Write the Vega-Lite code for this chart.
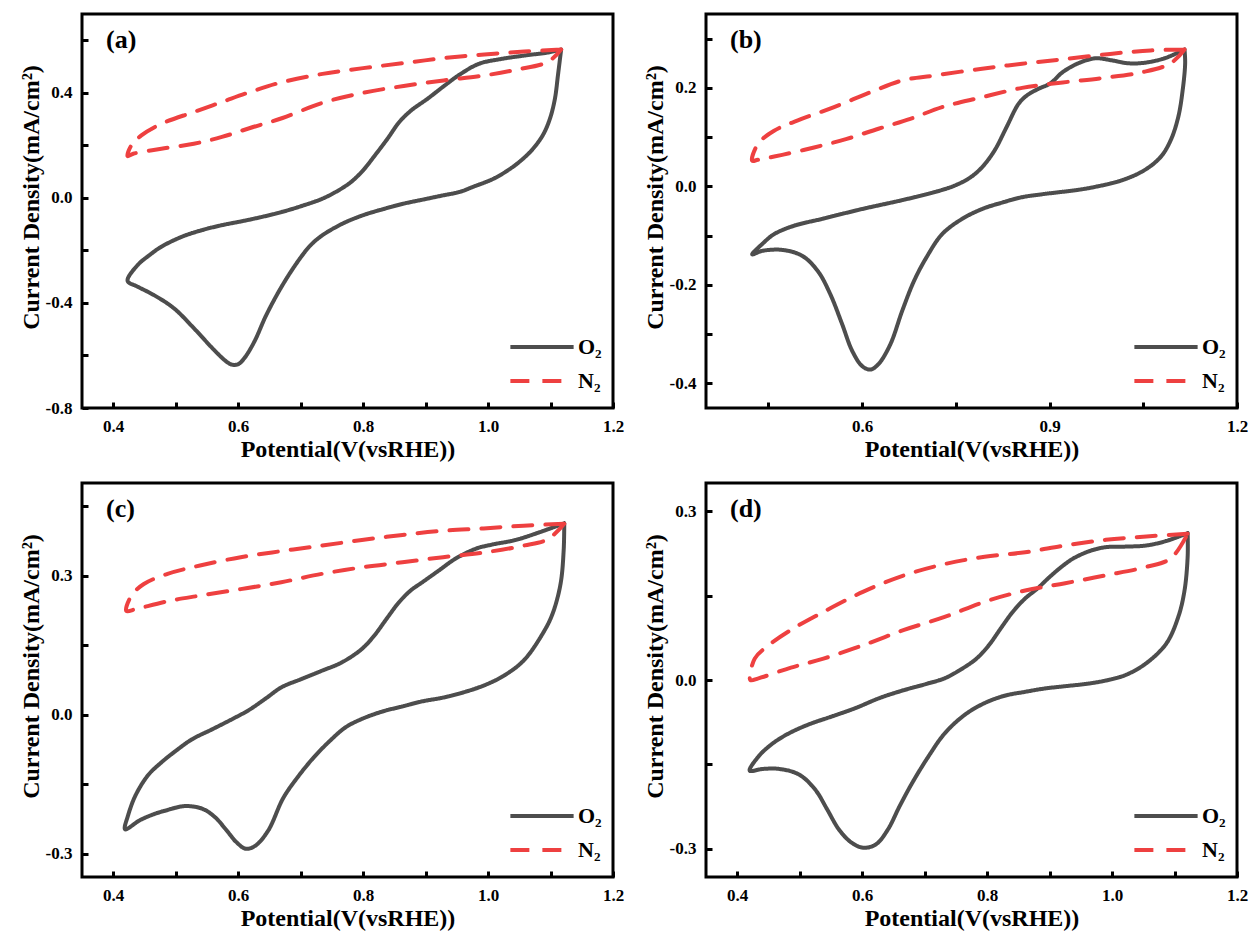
{
"$schema":"https://vega.github.io/schema/vega-lite/v6.json",
"background":"white",
"padding":{"left":17,"top":12,"right":5,"bottom":5},
"bounds":"flush",
"columns":2,
"spacing":{"row":75,"column":93},
"resolve":{"scale":{"x":"independent","y":"independent","color":"independent","strokeDash":"independent"},"legend":{"color":"independent","strokeDash":"independent"},"axis":{"x":"independent","y":"independent"}},
"data":{"values":[
{"p":"a","g":"O₂","i":1,"x":1.117,"y":0.565},{"p":"a","g":"O₂","i":2,"x":1.112,"y":0.469},{"p":"a","g":"O₂","i":3,"x":1.107,"y":0.377},{"p":"a","g":"O₂","i":4,"x":1.099,"y":0.301},{"p":"a","g":"O₂","i":5,"x":1.088,"y":0.240},{"p":"a","g":"O₂","i":6,"x":1.072,"y":0.187},{"p":"a","g":"O₂","i":7,"x":1.056,"y":0.149},{"p":"a","g":"O₂","i":8,"x":1.035,"y":0.110},{"p":"a","g":"O₂","i":9,"x":1.008,"y":0.072},{"p":"a","g":"O₂","i":10,"x":0.976,"y":0.042},{"p":"a","g":"O₂","i":11,"x":0.955,"y":0.023},{"p":"a","g":"O₂","i":12,"x":0.925,"y":0.008},{"p":"a","g":"O₂","i":13,"x":0.897,"y":-0.006},{"p":"a","g":"O₂","i":14,"x":0.865,"y":-0.022},{"p":"a","g":"O₂","i":15,"x":0.832,"y":-0.043},{"p":"a","g":"O₂","i":16,"x":0.800,"y":-0.066},{"p":"a","g":"O₂","i":17,"x":0.768,"y":-0.097},{"p":"a","g":"O₂","i":18,"x":0.735,"y":-0.142},{"p":"a","g":"O₂","i":19,"x":0.716,"y":-0.180},{"p":"a","g":"O₂","i":20,"x":0.697,"y":-0.237},{"p":"a","g":"O₂","i":21,"x":0.671,"y":-0.332},{"p":"a","g":"O₂","i":22,"x":0.645,"y":-0.446},{"p":"a","g":"O₂","i":23,"x":0.626,"y":-0.547},{"p":"a","g":"O₂","i":24,"x":0.610,"y":-0.610},{"p":"a","g":"O₂","i":25,"x":0.600,"y":-0.633},{"p":"a","g":"O₂","i":26,"x":0.590,"y":-0.635},{"p":"a","g":"O₂","i":27,"x":0.581,"y":-0.623},{"p":"a","g":"O₂","i":28,"x":0.561,"y":-0.578},{"p":"a","g":"O₂","i":29,"x":0.529,"y":-0.496},{"p":"a","g":"O₂","i":30,"x":0.497,"y":-0.420},{"p":"a","g":"O₂","i":31,"x":0.465,"y":-0.370},{"p":"a","g":"O₂","i":32,"x":0.439,"y":-0.338},{"p":"a","g":"O₂","i":33,"x":0.423,"y":-0.316},{"p":"a","g":"O₂","i":34,"x":0.439,"y":-0.256},{"p":"a","g":"O₂","i":35,"x":0.458,"y":-0.218},{"p":"a","g":"O₂","i":36,"x":0.477,"y":-0.186},{"p":"a","g":"O₂","i":37,"x":0.510,"y":-0.148},{"p":"a","g":"O₂","i":38,"x":0.542,"y":-0.123},{"p":"a","g":"O₂","i":39,"x":0.574,"y":-0.104},{"p":"a","g":"O₂","i":40,"x":0.606,"y":-0.089},{"p":"a","g":"O₂","i":41,"x":0.639,"y":-0.072},{"p":"a","g":"O₂","i":42,"x":0.671,"y":-0.053},{"p":"a","g":"O₂","i":43,"x":0.703,"y":-0.030},{"p":"a","g":"O₂","i":44,"x":0.735,"y":-0.003},{"p":"a","g":"O₂","i":45,"x":0.761,"y":0.029},{"p":"a","g":"O₂","i":46,"x":0.781,"y":0.061},{"p":"a","g":"O₂","i":47,"x":0.800,"y":0.105},{"p":"a","g":"O₂","i":48,"x":0.819,"y":0.162},{"p":"a","g":"O₂","i":49,"x":0.839,"y":0.225},{"p":"a","g":"O₂","i":50,"x":0.858,"y":0.289},{"p":"a","g":"O₂","i":51,"x":0.877,"y":0.333},{"p":"a","g":"O₂","i":52,"x":0.903,"y":0.377},{"p":"a","g":"O₂","i":53,"x":0.929,"y":0.425},{"p":"a","g":"O₂","i":54,"x":0.955,"y":0.470},{"p":"a","g":"O₂","i":55,"x":0.985,"y":0.510},{"p":"a","g":"O₂","i":56,"x":1.019,"y":0.528},{"p":"a","g":"O₂","i":57,"x":1.062,"y":0.543},{"p":"a","g":"O₂","i":58,"x":1.095,"y":0.553},{"p":"a","g":"O₂","i":59,"x":1.117,"y":0.565},
{"p":"a","g":"N₂","i":1,"x":1.117,"y":0.565},{"p":"a","g":"N₂","i":2,"x":1.058,"y":0.557},{"p":"a","g":"N₂","i":3,"x":0.994,"y":0.546},{"p":"a","g":"N₂","i":4,"x":0.929,"y":0.532},{"p":"a","g":"N₂","i":5,"x":0.865,"y":0.513},{"p":"a","g":"N₂","i":6,"x":0.800,"y":0.494},{"p":"a","g":"N₂","i":7,"x":0.735,"y":0.472},{"p":"a","g":"N₂","i":8,"x":0.671,"y":0.441},{"p":"a","g":"N₂","i":9,"x":0.619,"y":0.403},{"p":"a","g":"N₂","i":10,"x":0.574,"y":0.365},{"p":"a","g":"N₂","i":11,"x":0.529,"y":0.327},{"p":"a","g":"N₂","i":12,"x":0.477,"y":0.282},{"p":"a","g":"N₂","i":13,"x":0.445,"y":0.238},{"p":"a","g":"N₂","i":14,"x":0.429,"y":0.200},{"p":"a","g":"N₂","i":15,"x":0.423,"y":0.159},{"p":"a","g":"N₂","i":16,"x":0.432,"y":0.168},{"p":"a","g":"N₂","i":17,"x":0.477,"y":0.187},{"p":"a","g":"N₂","i":18,"x":0.529,"y":0.206},{"p":"a","g":"N₂","i":19,"x":0.574,"y":0.232},{"p":"a","g":"N₂","i":20,"x":0.619,"y":0.266},{"p":"a","g":"N₂","i":21,"x":0.671,"y":0.304},{"p":"a","g":"N₂","i":22,"x":0.735,"y":0.362},{"p":"a","g":"N₂","i":23,"x":0.800,"y":0.400},{"p":"a","g":"N₂","i":24,"x":0.865,"y":0.426},{"p":"a","g":"N₂","i":25,"x":0.929,"y":0.447},{"p":"a","g":"N₂","i":26,"x":0.994,"y":0.466},{"p":"a","g":"N₂","i":27,"x":1.045,"y":0.488},{"p":"a","g":"N₂","i":28,"x":1.096,"y":0.518},{"p":"a","g":"N₂","i":29,"x":1.117,"y":0.565},
{"p":"b","g":"O₂","i":1,"x":1.116,"y":0.278},{"p":"b","g":"O₂","i":2,"x":1.117,"y":0.250},{"p":"b","g":"O₂","i":3,"x":1.113,"y":0.195},{"p":"b","g":"O₂","i":4,"x":1.106,"y":0.141},{"p":"b","g":"O₂","i":5,"x":1.094,"y":0.094},{"p":"b","g":"O₂","i":6,"x":1.078,"y":0.060},{"p":"b","g":"O₂","i":7,"x":1.052,"y":0.033},{"p":"b","g":"O₂","i":8,"x":1.015,"y":0.012},{"p":"b","g":"O₂","i":9,"x":0.973,"y":-0.001},{"p":"b","g":"O₂","i":10,"x":0.946,"y":-0.007},{"p":"b","g":"O₂","i":11,"x":0.921,"y":-0.011},{"p":"b","g":"O₂","i":12,"x":0.888,"y":-0.016},{"p":"b","g":"O₂","i":13,"x":0.856,"y":-0.022},{"p":"b","g":"O₂","i":14,"x":0.824,"y":-0.033},{"p":"b","g":"O₂","i":15,"x":0.792,"y":-0.046},{"p":"b","g":"O₂","i":16,"x":0.760,"y":-0.066},{"p":"b","g":"O₂","i":17,"x":0.728,"y":-0.097},{"p":"b","g":"O₂","i":18,"x":0.703,"y":-0.144},{"p":"b","g":"O₂","i":19,"x":0.683,"y":-0.192},{"p":"b","g":"O₂","i":20,"x":0.664,"y":-0.253},{"p":"b","g":"O₂","i":21,"x":0.645,"y":-0.321},{"p":"b","g":"O₂","i":22,"x":0.626,"y":-0.361},{"p":"b","g":"O₂","i":23,"x":0.613,"y":-0.372},{"p":"b","g":"O₂","i":24,"x":0.600,"y":-0.365},{"p":"b","g":"O₂","i":25,"x":0.584,"y":-0.334},{"p":"b","g":"O₂","i":26,"x":0.568,"y":-0.280},{"p":"b","g":"O₂","i":27,"x":0.549,"y":-0.219},{"p":"b","g":"O₂","i":28,"x":0.529,"y":-0.172},{"p":"b","g":"O₂","i":29,"x":0.504,"y":-0.141},{"p":"b","g":"O₂","i":30,"x":0.472,"y":-0.129},{"p":"b","g":"O₂","i":31,"x":0.440,"y":-0.131},{"p":"b","g":"O₂","i":32,"x":0.424,"y":-0.138},{"p":"b","g":"O₂","i":33,"x":0.440,"y":-0.117},{"p":"b","g":"O₂","i":34,"x":0.459,"y":-0.097},{"p":"b","g":"O₂","i":35,"x":0.491,"y":-0.080},{"p":"b","g":"O₂","i":36,"x":0.536,"y":-0.066},{"p":"b","g":"O₂","i":37,"x":0.600,"y":-0.046},{"p":"b","g":"O₂","i":38,"x":0.664,"y":-0.028},{"p":"b","g":"O₂","i":39,"x":0.715,"y":-0.012},{"p":"b","g":"O₂","i":40,"x":0.747,"y":0.001},{"p":"b","g":"O₂","i":41,"x":0.773,"y":0.018},{"p":"b","g":"O₂","i":42,"x":0.792,"y":0.039},{"p":"b","g":"O₂","i":43,"x":0.812,"y":0.073},{"p":"b","g":"O₂","i":44,"x":0.831,"y":0.120},{"p":"b","g":"O₂","i":45,"x":0.850,"y":0.167},{"p":"b","g":"O₂","i":46,"x":0.863,"y":0.184},{"p":"b","g":"O₂","i":47,"x":0.882,"y":0.198},{"p":"b","g":"O₂","i":48,"x":0.901,"y":0.209},{"p":"b","g":"O₂","i":49,"x":0.921,"y":0.232},{"p":"b","g":"O₂","i":50,"x":0.946,"y":0.250},{"p":"b","g":"O₂","i":51,"x":0.973,"y":0.260},{"p":"b","g":"O₂","i":52,"x":0.999,"y":0.256},{"p":"b","g":"O₂","i":53,"x":1.025,"y":0.250},{"p":"b","g":"O₂","i":54,"x":1.052,"y":0.251},{"p":"b","g":"O₂","i":55,"x":1.084,"y":0.260},{"p":"b","g":"O₂","i":56,"x":1.116,"y":0.278},
{"p":"b","g":"N₂","i":1,"x":1.116,"y":0.278},{"p":"b","g":"N₂","i":2,"x":1.062,"y":0.276},{"p":"b","g":"N₂","i":3,"x":0.997,"y":0.269},{"p":"b","g":"N₂","i":4,"x":0.921,"y":0.258},{"p":"b","g":"N₂","i":5,"x":0.856,"y":0.249},{"p":"b","g":"N₂","i":6,"x":0.792,"y":0.239},{"p":"b","g":"N₂","i":7,"x":0.715,"y":0.225},{"p":"b","g":"N₂","i":8,"x":0.664,"y":0.215},{"p":"b","g":"N₂","i":9,"x":0.613,"y":0.191},{"p":"b","g":"N₂","i":10,"x":0.555,"y":0.161},{"p":"b","g":"N₂","i":11,"x":0.497,"y":0.134},{"p":"b","g":"N₂","i":12,"x":0.459,"y":0.113},{"p":"b","g":"N₂","i":13,"x":0.433,"y":0.086},{"p":"b","g":"N₂","i":14,"x":0.424,"y":0.052},{"p":"b","g":"N₂","i":15,"x":0.433,"y":0.054},{"p":"b","g":"N₂","i":16,"x":0.472,"y":0.064},{"p":"b","g":"N₂","i":17,"x":0.523,"y":0.079},{"p":"b","g":"N₂","i":18,"x":0.574,"y":0.096},{"p":"b","g":"N₂","i":19,"x":0.626,"y":0.117},{"p":"b","g":"N₂","i":20,"x":0.677,"y":0.137},{"p":"b","g":"N₂","i":21,"x":0.728,"y":0.161},{"p":"b","g":"N₂","i":22,"x":0.792,"y":0.181},{"p":"b","g":"N₂","i":23,"x":0.856,"y":0.200},{"p":"b","g":"N₂","i":24,"x":0.921,"y":0.211},{"p":"b","g":"N₂","i":25,"x":0.985,"y":0.220},{"p":"b","g":"N₂","i":26,"x":1.049,"y":0.232},{"p":"b","g":"N₂","i":27,"x":1.094,"y":0.250},{"p":"b","g":"N₂","i":28,"x":1.116,"y":0.278},
{"p":"c","g":"O₂","i":1,"x":1.122,"y":0.413},{"p":"c","g":"O₂","i":2,"x":1.121,"y":0.354},{"p":"c","g":"O₂","i":3,"x":1.116,"y":0.282},{"p":"c","g":"O₂","i":4,"x":1.103,"y":0.217},{"p":"c","g":"O₂","i":5,"x":1.087,"y":0.174},{"p":"c","g":"O₂","i":6,"x":1.057,"y":0.117},{"p":"c","g":"O₂","i":7,"x":1.025,"y":0.084},{"p":"c","g":"O₂","i":8,"x":0.993,"y":0.063},{"p":"c","g":"O₂","i":9,"x":0.960,"y":0.048},{"p":"c","g":"O₂","i":10,"x":0.928,"y":0.037},{"p":"c","g":"O₂","i":11,"x":0.895,"y":0.029},{"p":"c","g":"O₂","i":12,"x":0.863,"y":0.018},{"p":"c","g":"O₂","i":13,"x":0.831,"y":0.007},{"p":"c","g":"O₂","i":14,"x":0.798,"y":-0.009},{"p":"c","g":"O₂","i":15,"x":0.772,"y":-0.027},{"p":"c","g":"O₂","i":16,"x":0.747,"y":-0.056},{"p":"c","g":"O₂","i":17,"x":0.721,"y":-0.092},{"p":"c","g":"O₂","i":18,"x":0.695,"y":-0.135},{"p":"c","g":"O₂","i":19,"x":0.672,"y":-0.180},{"p":"c","g":"O₂","i":20,"x":0.648,"y":-0.250},{"p":"c","g":"O₂","i":21,"x":0.627,"y":-0.283},{"p":"c","g":"O₂","i":22,"x":0.612,"y":-0.289},{"p":"c","g":"O₂","i":23,"x":0.598,"y":-0.276},{"p":"c","g":"O₂","i":24,"x":0.580,"y":-0.247},{"p":"c","g":"O₂","i":25,"x":0.563,"y":-0.221},{"p":"c","g":"O₂","i":26,"x":0.543,"y":-0.203},{"p":"c","g":"O₂","i":27,"x":0.515,"y":-0.197},{"p":"c","g":"O₂","i":28,"x":0.483,"y":-0.207},{"p":"c","g":"O₂","i":29,"x":0.462,"y":-0.216},{"p":"c","g":"O₂","i":30,"x":0.442,"y":-0.228},{"p":"c","g":"O₂","i":31,"x":0.419,"y":-0.247},{"p":"c","g":"O₂","i":32,"x":0.424,"y":-0.216},{"p":"c","g":"O₂","i":33,"x":0.436,"y":-0.173},{"p":"c","g":"O₂","i":34,"x":0.456,"y":-0.130},{"p":"c","g":"O₂","i":35,"x":0.476,"y":-0.104},{"p":"c","g":"O₂","i":36,"x":0.500,"y":-0.078},{"p":"c","g":"O₂","i":37,"x":0.526,"y":-0.053},{"p":"c","g":"O₂","i":38,"x":0.559,"y":-0.031},{"p":"c","g":"O₂","i":39,"x":0.591,"y":-0.009},{"p":"c","g":"O₂","i":40,"x":0.617,"y":0.010},{"p":"c","g":"O₂","i":41,"x":0.643,"y":0.034},{"p":"c","g":"O₂","i":42,"x":0.669,"y":0.059},{"p":"c","g":"O₂","i":43,"x":0.701,"y":0.077},{"p":"c","g":"O₂","i":44,"x":0.734,"y":0.095},{"p":"c","g":"O₂","i":45,"x":0.766,"y":0.113},{"p":"c","g":"O₂","i":46,"x":0.798,"y":0.142},{"p":"c","g":"O₂","i":47,"x":0.818,"y":0.171},{"p":"c","g":"O₂","i":48,"x":0.837,"y":0.206},{"p":"c","g":"O₂","i":49,"x":0.857,"y":0.242},{"p":"c","g":"O₂","i":50,"x":0.876,"y":0.268},{"p":"c","g":"O₂","i":51,"x":0.895,"y":0.286},{"p":"c","g":"O₂","i":52,"x":0.921,"y":0.311},{"p":"c","g":"O₂","i":53,"x":0.947,"y":0.336},{"p":"c","g":"O₂","i":54,"x":0.980,"y":0.358},{"p":"c","g":"O₂","i":55,"x":1.006,"y":0.367},{"p":"c","g":"O₂","i":56,"x":1.044,"y":0.377},{"p":"c","g":"O₂","i":57,"x":1.083,"y":0.394},{"p":"c","g":"O₂","i":58,"x":1.122,"y":0.413},
{"p":"c","g":"N₂","i":1,"x":1.122,"y":0.412},{"p":"c","g":"N₂","i":2,"x":1.057,"y":0.408},{"p":"c","g":"N₂","i":3,"x":0.993,"y":0.402},{"p":"c","g":"N₂","i":4,"x":0.928,"y":0.397},{"p":"c","g":"N₂","i":5,"x":0.863,"y":0.388},{"p":"c","g":"N₂","i":6,"x":0.798,"y":0.377},{"p":"c","g":"N₂","i":7,"x":0.734,"y":0.365},{"p":"c","g":"N₂","i":8,"x":0.669,"y":0.353},{"p":"c","g":"N₂","i":9,"x":0.604,"y":0.340},{"p":"c","g":"N₂","i":10,"x":0.539,"y":0.322},{"p":"c","g":"N₂","i":11,"x":0.487,"y":0.304},{"p":"c","g":"N₂","i":12,"x":0.449,"y":0.282},{"p":"c","g":"N₂","i":13,"x":0.429,"y":0.257},{"p":"c","g":"N₂","i":14,"x":0.421,"y":0.224},{"p":"c","g":"N₂","i":15,"x":0.436,"y":0.228},{"p":"c","g":"N₂","i":16,"x":0.487,"y":0.245},{"p":"c","g":"N₂","i":17,"x":0.539,"y":0.257},{"p":"c","g":"N₂","i":18,"x":0.604,"y":0.271},{"p":"c","g":"N₂","i":19,"x":0.669,"y":0.286},{"p":"c","g":"N₂","i":20,"x":0.734,"y":0.304},{"p":"c","g":"N₂","i":21,"x":0.798,"y":0.318},{"p":"c","g":"N₂","i":22,"x":0.863,"y":0.329},{"p":"c","g":"N₂","i":23,"x":0.928,"y":0.340},{"p":"c","g":"N₂","i":24,"x":0.993,"y":0.350},{"p":"c","g":"N₂","i":25,"x":1.057,"y":0.365},{"p":"c","g":"N₂","i":26,"x":1.096,"y":0.379},{"p":"c","g":"N₂","i":27,"x":1.122,"y":0.412},
{"p":"d","g":"O₂","i":1,"x":1.121,"y":0.261},{"p":"d","g":"O₂","i":2,"x":1.121,"y":0.219},{"p":"d","g":"O₂","i":3,"x":1.116,"y":0.159},{"p":"d","g":"O₂","i":4,"x":1.106,"y":0.112},{"p":"d","g":"O₂","i":5,"x":1.087,"y":0.065},{"p":"d","g":"O₂","i":6,"x":1.055,"y":0.030},{"p":"d","g":"O₂","i":7,"x":1.022,"y":0.009},{"p":"d","g":"O₂","i":8,"x":0.990,"y":-0.001},{"p":"d","g":"O₂","i":9,"x":0.958,"y":-0.007},{"p":"d","g":"O₂","i":10,"x":0.925,"y":-0.011},{"p":"d","g":"O₂","i":11,"x":0.893,"y":-0.015},{"p":"d","g":"O₂","i":12,"x":0.861,"y":-0.021},{"p":"d","g":"O₂","i":13,"x":0.828,"y":-0.028},{"p":"d","g":"O₂","i":14,"x":0.796,"y":-0.041},{"p":"d","g":"O₂","i":15,"x":0.764,"y":-0.062},{"p":"d","g":"O₂","i":16,"x":0.732,"y":-0.095},{"p":"d","g":"O₂","i":17,"x":0.706,"y":-0.136},{"p":"d","g":"O₂","i":18,"x":0.680,"y":-0.183},{"p":"d","g":"O₂","i":19,"x":0.660,"y":-0.224},{"p":"d","g":"O₂","i":20,"x":0.641,"y":-0.266},{"p":"d","g":"O₂","i":21,"x":0.622,"y":-0.292},{"p":"d","g":"O₂","i":22,"x":0.602,"y":-0.298},{"p":"d","g":"O₂","i":23,"x":0.583,"y":-0.289},{"p":"d","g":"O₂","i":24,"x":0.563,"y":-0.266},{"p":"d","g":"O₂","i":25,"x":0.544,"y":-0.230},{"p":"d","g":"O₂","i":26,"x":0.525,"y":-0.195},{"p":"d","g":"O₂","i":27,"x":0.499,"y":-0.168},{"p":"d","g":"O₂","i":28,"x":0.467,"y":-0.158},{"p":"d","g":"O₂","i":29,"x":0.441,"y":-0.158},{"p":"d","g":"O₂","i":30,"x":0.420,"y":-0.161},{"p":"d","g":"O₂","i":31,"x":0.434,"y":-0.136},{"p":"d","g":"O₂","i":32,"x":0.454,"y":-0.115},{"p":"d","g":"O₂","i":33,"x":0.479,"y":-0.097},{"p":"d","g":"O₂","i":34,"x":0.512,"y":-0.080},{"p":"d","g":"O₂","i":35,"x":0.551,"y":-0.065},{"p":"d","g":"O₂","i":36,"x":0.589,"y":-0.050},{"p":"d","g":"O₂","i":37,"x":0.628,"y":-0.032},{"p":"d","g":"O₂","i":38,"x":0.667,"y":-0.018},{"p":"d","g":"O₂","i":39,"x":0.706,"y":-0.006},{"p":"d","g":"O₂","i":40,"x":0.732,"y":0.003},{"p":"d","g":"O₂","i":41,"x":0.757,"y":0.018},{"p":"d","g":"O₂","i":42,"x":0.783,"y":0.038},{"p":"d","g":"O₂","i":43,"x":0.803,"y":0.062},{"p":"d","g":"O₂","i":44,"x":0.822,"y":0.092},{"p":"d","g":"O₂","i":45,"x":0.841,"y":0.121},{"p":"d","g":"O₂","i":46,"x":0.861,"y":0.145},{"p":"d","g":"O₂","i":47,"x":0.880,"y":0.162},{"p":"d","g":"O₂","i":48,"x":0.900,"y":0.183},{"p":"d","g":"O₂","i":49,"x":0.919,"y":0.201},{"p":"d","g":"O₂","i":50,"x":0.938,"y":0.216},{"p":"d","g":"O₂","i":51,"x":0.964,"y":0.229},{"p":"d","g":"O₂","i":52,"x":0.990,"y":0.236},{"p":"d","g":"O₂","i":53,"x":1.022,"y":0.237},{"p":"d","g":"O₂","i":54,"x":1.055,"y":0.239},{"p":"d","g":"O₂","i":55,"x":1.087,"y":0.247},{"p":"d","g":"O₂","i":56,"x":1.121,"y":0.261},
{"p":"d","g":"N₂","i":1,"x":1.121,"y":0.260},{"p":"d","g":"N₂","i":2,"x":1.055,"y":0.255},{"p":"d","g":"N₂","i":3,"x":0.990,"y":0.249},{"p":"d","g":"N₂","i":4,"x":0.925,"y":0.239},{"p":"d","g":"N₂","i":5,"x":0.861,"y":0.227},{"p":"d","g":"N₂","i":6,"x":0.796,"y":0.219},{"p":"d","g":"N₂","i":7,"x":0.732,"y":0.206},{"p":"d","g":"N₂","i":8,"x":0.667,"y":0.186},{"p":"d","g":"N₂","i":9,"x":0.602,"y":0.157},{"p":"d","g":"N₂","i":10,"x":0.538,"y":0.121},{"p":"d","g":"N₂","i":11,"x":0.486,"y":0.089},{"p":"d","g":"N₂","i":12,"x":0.447,"y":0.059},{"p":"d","g":"N₂","i":13,"x":0.428,"y":0.038},{"p":"d","g":"N₂","i":14,"x":0.421,"y":0.000},{"p":"d","g":"N₂","i":15,"x":0.434,"y":0.003},{"p":"d","g":"N₂","i":16,"x":0.486,"y":0.022},{"p":"d","g":"N₂","i":17,"x":0.538,"y":0.038},{"p":"d","g":"N₂","i":18,"x":0.602,"y":0.062},{"p":"d","g":"N₂","i":19,"x":0.667,"y":0.089},{"p":"d","g":"N₂","i":20,"x":0.732,"y":0.112},{"p":"d","g":"N₂","i":21,"x":0.796,"y":0.139},{"p":"d","g":"N₂","i":22,"x":0.861,"y":0.159},{"p":"d","g":"N₂","i":23,"x":0.925,"y":0.172},{"p":"d","g":"N₂","i":24,"x":0.990,"y":0.186},{"p":"d","g":"N₂","i":25,"x":1.055,"y":0.201},{"p":"d","g":"N₂","i":26,"x":1.094,"y":0.216},{"p":"d","g":"N₂","i":27,"x":1.121,"y":0.260}
]},
"concat":[
{"width":531,"height":394,"title":{"text":"(a)"},
 "transform":[{"filter":"datum.p==='a'"}],
 "mark":{"type":"line","strokeWidth":4,"interpolate":"catmull-rom","strokeCap":"round"},
 "encoding":{
  "x":{"field":"x","type":"quantitative","scale":{"domain":[0.35,1.2],"nice":false,"zero":false},
   "axis":{"title":"Potential(V(vsRHE))","values":[0.4,0.5,0.6,0.7,0.8,0.9,1.0,1.1,1.2],"labelExpr":"round(datum.value*10)%2==0 ? format(datum.value,'.1f') : ''"}},
  "y":{"field":"y","type":"quantitative","scale":{"domain":[-0.8,0.7],"nice":false,"zero":false},
   "axis":{"title":"Current Density(mA/cm²)","values":[-0.8,-0.6,-0.4,-0.2,0,0.2,0.4,0.6],"labelExpr":"abs(round(datum.value*10)%4)==0 ? replace(format(datum.value,'.1f'),'−','-') : ''"}},
  "color":{"field":"g","type":"nominal","scale":{"domain":["O₂","N₂"],"range":["#4d4d4d","#ee4040"]},"legend":{"title":null}},
  "strokeDash":{"field":"g","type":"nominal","scale":{"domain":["O₂","N₂"],"range":[[1,0],[19,13]]},"legend":{"title":null}},
  "order":{"field":"i","type":"quantitative"}}},
{"width":531,"height":394,"title":{"text":"(b)"},
 "transform":[{"filter":"datum.p==='b'"}],
 "mark":{"type":"line","strokeWidth":4,"interpolate":"catmull-rom","strokeCap":"round"},
 "encoding":{
  "x":{"field":"x","type":"quantitative","scale":{"domain":[0.35,1.2],"nice":false,"zero":false},
   "axis":{"title":"Potential(V(vsRHE))","values":[0.45,0.6,0.75,0.9,1.05,1.2],"labelExpr":"round(datum.value*20)%6==0 ? format(datum.value,'.1f') : ''"}},
  "y":{"field":"y","type":"quantitative","scale":{"domain":[-0.45,0.35],"nice":false,"zero":false},
   "axis":{"title":"Current Density(mA/cm²)","values":[-0.4,-0.3,-0.2,-0.1,0,0.1,0.2,0.3],"labelExpr":"abs(round(datum.value*10)%2)==0 ? replace(format(datum.value,'.1f'),'−','-') : ''"}},
  "color":{"field":"g","type":"nominal","scale":{"domain":["O₂","N₂"],"range":["#4d4d4d","#ee4040"]},"legend":{"title":null}},
  "strokeDash":{"field":"g","type":"nominal","scale":{"domain":["O₂","N₂"],"range":[[1,0],[19,13]]},"legend":{"title":null}},
  "order":{"field":"i","type":"quantitative"}}},
{"width":531,"height":394,"title":{"text":"(c)"},
 "transform":[{"filter":"datum.p==='c'"}],
 "mark":{"type":"line","strokeWidth":4,"interpolate":"catmull-rom","strokeCap":"round"},
 "encoding":{
  "x":{"field":"x","type":"quantitative","scale":{"domain":[0.35,1.2],"nice":false,"zero":false},
   "axis":{"title":"Potential(V(vsRHE))","values":[0.4,0.5,0.6,0.7,0.8,0.9,1.0,1.1,1.2],"labelExpr":"round(datum.value*10)%2==0 ? format(datum.value,'.1f') : ''"}},
  "y":{"field":"y","type":"quantitative","scale":{"domain":[-0.35,0.5],"nice":false,"zero":false},
   "axis":{"title":"Current Density(mA/cm²)","values":[-0.3,-0.15,0,0.15,0.3,0.45],"labelExpr":"abs(round(datum.value*20)%6)==0 ? replace(format(datum.value,'.1f'),'−','-') : ''"}},
  "color":{"field":"g","type":"nominal","scale":{"domain":["O₂","N₂"],"range":["#4d4d4d","#ee4040"]},"legend":{"title":null}},
  "strokeDash":{"field":"g","type":"nominal","scale":{"domain":["O₂","N₂"],"range":[[1,0],[19,13]]},"legend":{"title":null}},
  "order":{"field":"i","type":"quantitative"}}},
{"width":531,"height":394,"title":{"text":"(d)"},
 "transform":[{"filter":"datum.p==='d'"}],
 "mark":{"type":"line","strokeWidth":4,"interpolate":"catmull-rom","strokeCap":"round"},
 "encoding":{
  "x":{"field":"x","type":"quantitative","scale":{"domain":[0.35,1.2],"nice":false,"zero":false},
   "axis":{"title":"Potential(V(vsRHE))","values":[0.4,0.5,0.6,0.7,0.8,0.9,1.0,1.1,1.2],"labelExpr":"round(datum.value*10)%2==0 ? format(datum.value,'.1f') : ''"}},
  "y":{"field":"y","type":"quantitative","scale":{"domain":[-0.35,0.35],"nice":false,"zero":false},
   "axis":{"title":"Current Density(mA/cm²)","values":[-0.3,-0.15,0,0.15,0.3],"labelExpr":"abs(round(datum.value*20)%6)==0 ? replace(format(datum.value,'.1f'),'−','-') : ''"}},
  "color":{"field":"g","type":"nominal","scale":{"domain":["O₂","N₂"],"range":["#4d4d4d","#ee4040"]},"legend":{"title":null}},
  "strokeDash":{"field":"g","type":"nominal","scale":{"domain":["O₂","N₂"],"range":[[1,0],[19,13]]},"legend":{"title":null}},
  "order":{"field":"i","type":"quantitative"}}}
],
"config":{
 "view":{"stroke":"black","strokeWidth":3},
 "font":"Liberation Serif",
 "axis":{"domain":false,"grid":false,"labelFont":"Liberation Serif","labelFontSize":17,"labelFontWeight":"bold","labelColor":"black","titleFont":"Liberation Serif","titleFontSize":24,"titleFontWeight":"bold","titleColor":"black","tickColor":"black","tickWidth":3,"tickSize":-6,"tickOpacity":1,"labelOverlap":false,"labelBound":false,"labelFlush":false,"zindex":1},
 "axisX":{"labelPadding":16,"titlePadding":3},
 "axisY":{"labelPadding":16,"titlePadding":2,"titleY":183},
 "legend":{"orient":"bottom-right","offset":11,"padding":0,"symbolType":"stroke","symbolSize":4000,"symbolStrokeWidth":4,"clipHeight":32,"rowPadding":2,"labelFont":"Liberation Serif","labelFontSize":22,"labelFontWeight":"bold","labelColor":"black","labelOffset":2},
 "title":{"font":"Liberation Serif","fontSize":26,"fontWeight":"bold","color":"black","anchor":"start","frame":"group","orient":"top","offset":-39,"dx":24,"baseline":"middle"}
}
}
